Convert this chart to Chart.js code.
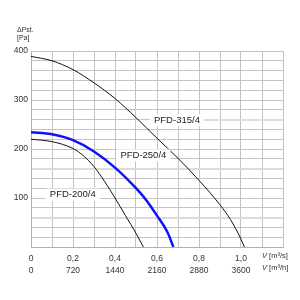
<!DOCTYPE html>
<html>
<head>
<meta charset="utf-8">
<script src="https://cdn.jsdelivr.net/npm/chart.js@4.4.1/dist/chart.umd.min.js"></script>
<style>
  html, body { margin: 0; padding: 0; background: #fff; }
</style>
</head>
<body>
<canvas id="chart" width="300" height="300"></canvas>
<script>
// Fan curves: flow V [m3/s] vs static pressure dPst [Pa]
const flow315 = [0, 0.1, 0.2, 0.3, 0.4, 0.5, 0.6, 0.7, 0.8, 0.9, 0.95, 1.0, 1.016];
const pres315 = [389, 380, 362, 335, 303, 264, 222, 181, 136, 86, 56, 16, 0];

const flow250 = [0, 0.1, 0.2, 0.3, 0.4, 0.5, 0.55, 0.6, 0.65, 0.678];
const pres250 = [234, 230, 218, 195, 162, 120, 95, 64, 30, 0];

const flow200 = [0, 0.1, 0.2, 0.25, 0.3, 0.35, 0.4, 0.45, 0.5, 0.535];
const pres200 = [220, 215, 201, 186, 164, 134, 100, 64, 28, 0];

const seriesNames = ["PFD-315/4", "PFD-250/4", "PFD-200/4"];

// tick labels: m3/s row and m3/h row
const tickM3s = ["0", "0,2", "0,4", "0,6", "0,8", "1,0"];
const tickM3h = ["0", "720", "1440", "2160", "2880", "3600"];
const tickPa = ["100", "200", "300", "400"];

const toPoints = (xs, ys) => xs.map((v, i) => ({ x: v, y: ys[i] }));

// where the curve names sit (data coords)
const nameSpots = [
  { q: 0.695, p: 259 },
  { q: 0.535, p: 187 },
  { q: 0.199, p: 107 },
];

const fontFam = "'Liberation Sans', Arial, sans-serif";

const textPlugin = {
  id: "texts",
  afterDatasetsDraw(chart) {
    const { ctx, scales, chartArea } = chart;
    const sx = scales.x, sy = scales.y;
    ctx.save();
    ctx.font = "9.5px " + fontFam;
    ctx.textBaseline = "middle";
    ctx.textAlign = "center";
    nameSpots.forEach((s, i) => {
      const px = sx.getPixelForValue(s.q);
      const py = sy.getPixelForValue(s.p);
      const w = ctx.measureText(seriesNames[i]).width;
      if (i === 0) {
        ctx.strokeStyle = "#dddddd";
        ctx.lineWidth = 2;
        ctx.beginPath();
        ctx.moveTo(px + w / 2 + 4, py);
        ctx.lineTo(chartArea.right, py);
        ctx.stroke();
      }
      ctx.fillStyle = "#ffffff";
      ctx.fillRect(px - w / 2 - 4, py - 6, w + 8, 12);
      ctx.fillStyle = "#222";
      ctx.fillText(seriesNames[i], px, py);
    });

    // axis titles
    ctx.textAlign = "left";
    ctx.fillStyle = "#333";
    ctx.font = "7px " + fontFam;
    ctx.fillText("\u0394Pst.", 17, 30);
    ctx.fillText("[Pa]", 17, 38);

    const unit = (y, txt) => {
      let x = 262;
      ctx.font = "italic 7.5px " + fontFam;
      ctx.fillText("V", x, y);
      x += ctx.measureText("V ").width;
      ctx.font = "7.5px " + fontFam;
      ctx.fillText(txt, x, y);
    };
    unit(256, "[m\u00b3/s]");
    unit(268, "[m\u00b3/h]");
    ctx.restore();
  },
};

new Chart(document.getElementById("chart"), {
  type: "line",
  plugins: [textPlugin],
  data: {
    datasets: [
      { label: seriesNames[0], data: toPoints(flow315, pres315), borderColor: "#111", borderWidth: 1 },
      { label: seriesNames[1], data: toPoints(flow250, pres250), borderColor: "#1010ff", borderWidth: 2.5 },
      { label: seriesNames[2], data: toPoints(flow200, pres200), borderColor: "#111", borderWidth: 1 },
    ],
  },
  options: {
    responsive: false,
    animation: false,
    devicePixelRatio: 1,
    layout: { padding: { left: 0, top: 51, right: 17, bottom: 0 } },
    elements: {
      point: { radius: 0 },
      line: { cubicInterpolationMode: "monotone", fill: false },
    },
    plugins: { legend: { display: false }, tooltip: { enabled: false } },
    scales: {
      x: {
        type: "linear",
        min: 0,
        max: 1.2,
        afterFit: (axis) => { axis.height = 53; },
        border: { color: "#b0b0b0" },
        grid: { color: "#c4c4c4", drawTicks: false },
        ticks: {
          stepSize: 0.1,
          autoSkip: false,
          maxRotation: 0,
          padding: 5,
          color: "#333",
          font: { family: fontFam, size: 8.5, lineHeight: 1.45 },
          callback: (v, i) => {
            if (i % 2 !== 0 || i / 2 >= tickM3s.length) return "";
            return [tickM3s[i / 2], tickM3h[i / 2]];
          },
        },
      },
      y: {
        min: 0,
        max: 400,
        afterFit: (axis) => { axis.width = 31; },
        border: { color: "#b0b0b0" },
        grid: {
          drawTicks: false,
          color: (c) => (c.tick && (c.tick.value === 60 || c.tick.value === 160) ? "#dcdcdc" : "#c4c4c4"),
          lineWidth: (c) => (c.tick && (c.tick.value === 60 || c.tick.value === 160) ? 2 : 1),
        },
        ticks: {
          stepSize: 20,
          autoSkip: false,
          padding: 3,
          color: "#333",
          font: { family: fontFam, size: 8.5 },
          callback: (v) => {
            const k = tickPa.indexOf(String(v));
            return k >= 0 ? tickPa[k] : "";
          },
        },
      },
    },
  },
});
</script>
</body>
</html>
